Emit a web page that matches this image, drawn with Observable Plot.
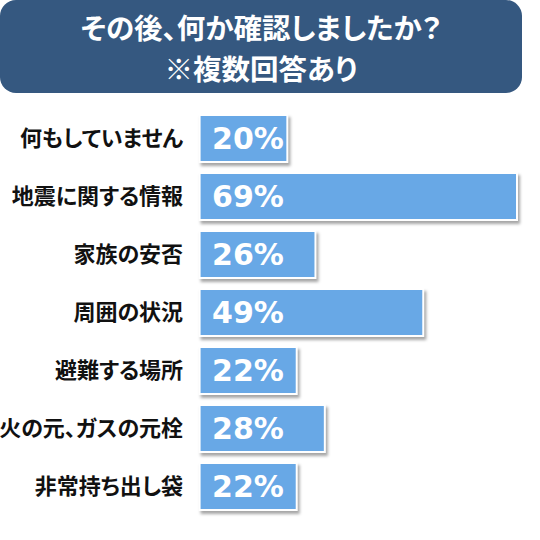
<!DOCTYPE html>
<html><head><meta charset="utf-8">
<script src="https://cdn.jsdelivr.net/npm/d3@7"></script>
<script src="https://cdn.jsdelivr.net/npm/@observablehq/plot@0.6"></script>
<style>
body{margin:0;background:#fff;}
#title{width:522px;height:93px;background:#355880;border-radius:16px;color:#fff;font-family:"Noto Sans CJK JP",sans-serif;font-weight:bold;font-size:28.5px;line-height:41px;text-align:center;display:flex;flex-direction:column;justify-content:center;font-feature-settings:"palt";}
#title div{height:41px;}
svg text{font-feature-settings:"palt";}
</style></head>
<body>
<div id="title"><div>その後、何か確認しましたか？</div><div>※複数回答あり</div></div>
<div id="chart"></div>
<script>
const categories = ["何もしていません","地震に関する情報","家族の安否","周囲の状況","避難する場所","火の元、ガスの元栓","非常持ち出し袋"];
const values = [20, 69, 26, 49, 22, 28, 22];
const data = categories.map((c, i) => ({cat: c, v: values[i]}));

const plot = Plot.plot({
  width: 540, height: 447,
  marginLeft: 192.6, marginRight: 24, marginTop: 10.6, marginBottom: 18.2,
  style: {fontFamily: "'Noto Sans CJK JP', sans-serif", background: "#fff"},
  x: {domain: [0, 69], axis: null},
  y: {domain: categories, padding: 0.161, axis: null},
  marks: [
    Plot.barX(data, {y: "cat", x: "v", insetLeft: 6, insetRight: -2, dx: 2, dy: 3, fill: "#000", fillOpacity: 0.35}),
    Plot.barX(data, {y: "cat", x: "v", insetLeft: 6, insetRight: -2, fill: "#fff"}),
    Plot.barX(data, {y: "cat", x: "v", insetLeft: 8, insetTop: 2, insetBottom: 2, fill: "#68a8e6"}),
    Plot.axisY({tickSize: 0, tickPadding: 10, fontSize: 22, fontWeight: "bold", fill: "#111", label: null}),
    Plot.text(data, {y: "cat", x: 0, dx: 19, text: d => d.v + "%", textAnchor: "start", fill: "#fff", fontSize: 30, fontWeight: "bold", fontFamily: "DejaVu Sans"})
  ]
});
// soft blur for the shadow layer
const ns = "http://www.w3.org/2000/svg";
const defs = document.createElementNS(ns, "defs");
defs.innerHTML = '<filter id="shblur" x="-10%" y="-30%" width="120%" height="160%"><feGaussianBlur stdDeviation="1.5"/></filter>';
plot.insertBefore(defs, plot.firstChild);
const barGroups = plot.querySelectorAll('g[aria-label="bar"]');
if (barGroups.length) barGroups[0].setAttribute("filter", "url(#shblur)");
document.getElementById("chart").appendChild(plot);
</script>
</body></html>
